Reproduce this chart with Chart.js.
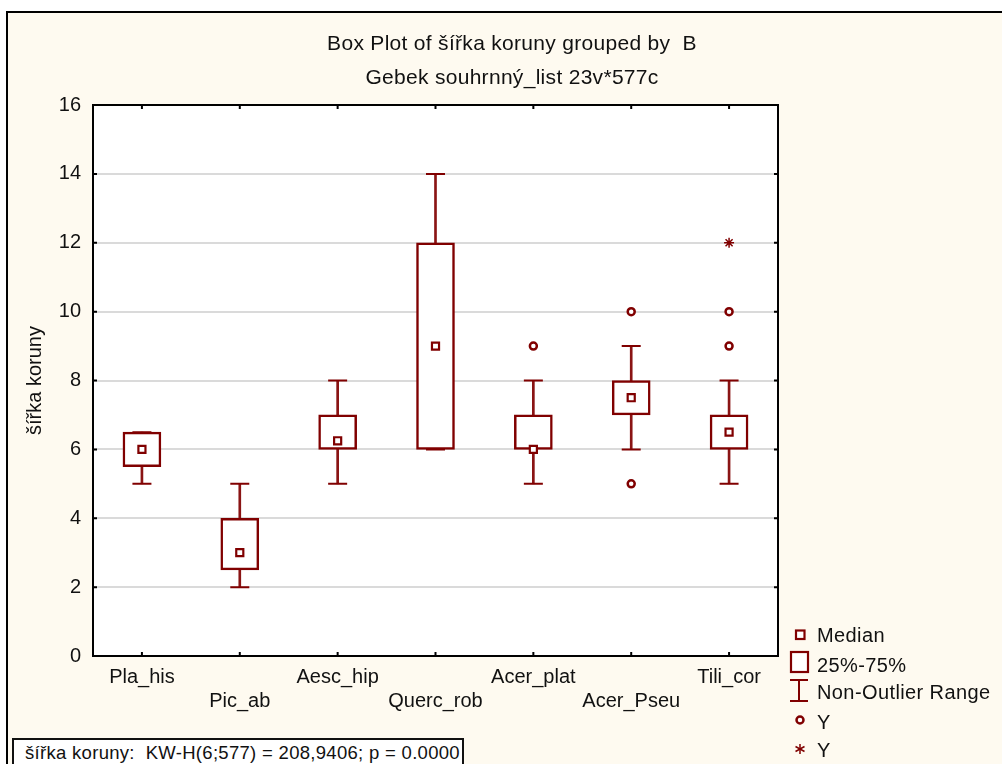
<!DOCTYPE html>
<html>
<head>
<meta charset="utf-8">
<script src="https://cdn.jsdelivr.net/npm/chart.js@4.4.1/dist/chart.umd.min.js"></script>
<style>
  html, body { margin: 0; padding: 0; background: #ffffff; }
  body { width: 1002px; height: 764px; position: relative; overflow: hidden;
         font-family: "Liberation Sans", Arial, sans-serif; color: #111; }
  #frame { position: absolute; left: 6px; top: 11px; width: 1100px; height: 900px;
           border: 2px solid #000; background: #fefaf0; }
  #chart { position: absolute; left: 0; top: 0; }
  .txt { position: absolute; font-size: 20px; line-height: 20px; white-space: pre; letter-spacing: 0.4px; }
  .ttl { font-size: 21px; letter-spacing: 0.3px; }
  .center { transform: translateX(-50%); }
  #kw { position: absolute; left: 12px; top: 738px; width: 448px; height: 40px;
        border: 2px solid #111; background: #fff; }
  #legend-marks { position: absolute; left: 780px; top: 620px; }
</style>
</head>
<body>
<div id="frame"></div>
<canvas id="chart" width="1002" height="764"></canvas>

<div class="txt ttl center" style="left:512px; top:33px;">Box Plot of šířka koruny grouped by  B</div>
<div class="txt ttl center" style="left:512px; top:67px;">Gebek souhrnný_list 23v*577c</div>

<svg id="legend-marks" width="40" height="144">
  <rect x="16" y="10.5" width="8.5" height="8.5" fill="#fff" stroke="#800000" stroke-width="2.2"/>
  <rect x="11" y="32" width="17" height="20" fill="#fff" stroke="#800000" stroke-width="2.2"/>
  <line x1="10" y1="60" x2="28" y2="60" stroke="#800000" stroke-width="2"/>
  <line x1="19" y1="60" x2="19" y2="81" stroke="#800000" stroke-width="2"/>
  <line x1="10" y1="81" x2="28" y2="81" stroke="#800000" stroke-width="2"/>
  <circle cx="20" cy="100" r="3.5" fill="#fff" stroke="#800000" stroke-width="2.5"/>
  <g stroke="#800000" stroke-width="1.5">
    <line x1="20" y1="124" x2="20" y2="134"/>
    <line x1="15.5" y1="126.5" x2="24.5" y2="131.5"/>
    <line x1="15.5" y1="131.5" x2="24.5" y2="126.5"/>
  </g>
</svg>
<div class="txt" style="left:817px; top:625px;">Median</div>
<div class="txt" style="left:817px; top:655px;">25%-75%</div>
<div class="txt" style="left:817px; top:682px;">Non-Outlier Range</div>
<div class="txt" style="left:817px; top:712px;">Y</div>
<div class="txt" style="left:817px; top:740px;">Y</div>

<div id="kw"></div>
<div class="txt" style="left:25px; top:743px; font-size:18.5px; letter-spacing:0.3px;">šířka koruny:  KW-H(6;577) = 208,9406; p = 0.0000</div>

<script>
const categories = ["Pla_his", "Pic_ab", "Aesc_hip", "Querc_rob", "Acer_plat", "Acer_Pseu", "Tili_cor"];
const medians = [6, 3, 6.25, 9, 6, 7.5, 6.5];
const q1 = [5.5, 2.5, 6, 6, 6, 7, 6];
const q3 = [6.5, 4, 7, 12, 7, 8, 7];
const whiskerMin = [5, 2, 5, 6, 5, 6, 5];
const whiskerMax = [6.5, 5, 8, 14, 8, 9, 8];
const outliers = [[], [], [], [], [9], [10, 5], [10, 9]];
const extremes = [[], [], [], [], [], [], [12]];
const yTicks = [0, 2, 4, 6, 8, 10, 12, 14, 16];

const RED = "#800000";
const FONT = { family: "'Liberation Sans', Arial, sans-serif", size: 20 };

// staggered category labels: odd ones on the second line
const xLabels = categories.map((c, i) => (i % 2 === 0 ? [c] : ["", c]));

const capPoints = [];
categories.forEach((c, i) => {
  capPoints.push({ x: xLabels[i], y: whiskerMin[i] });
  capPoints.push({ x: xLabels[i], y: whiskerMax[i] });
});
const medianPoints = categories.map((c, i) => ({ x: xLabels[i], y: medians[i] }));
const outlierPoints = [];
outliers.forEach((arr, i) => arr.forEach((v) => outlierPoints.push({ x: xLabels[i], y: v })));
const extremePoints = [];
extremes.forEach((arr, i) => arr.forEach((v) => extremePoints.push({ x: xLabels[i], y: v })));

const plotFrame = {
  id: "plotFrame",
  beforeDraw(chart) {
    const { ctx, chartArea: a } = chart;
    ctx.save();
    ctx.fillStyle = "#ffffff";
    ctx.fillRect(a.left, a.top, a.right - a.left, a.bottom - a.top);
    ctx.restore();
  },
  afterDraw(chart) {
    const { ctx, chartArea: a, scales } = chart;
    ctx.save();
    ctx.strokeStyle = "#000";
    ctx.lineWidth = 2;
    ctx.strokeRect(a.left, a.top, a.right - a.left, a.bottom - a.top);
    // inward tick marks
    ctx.beginPath();
    scales.y.ticks.forEach((t) => {
      const py = scales.y.getPixelForValue(t.value);
      ctx.moveTo(a.left, py); ctx.lineTo(a.left + 4, py);
      ctx.moveTo(a.right, py); ctx.lineTo(a.right - 4, py);
    });
    categories.forEach((c, i) => {
      const px = scales.x.getPixelForValue(i);
      ctx.moveTo(px, a.top); ctx.lineTo(px, a.top + 4);
      ctx.moveTo(px, a.bottom); ctx.lineTo(px, a.bottom - 4);
    });
    ctx.stroke();
    ctx.restore();
  }
};

new Chart(document.getElementById("chart"), {
  type: "bar",
  data: {
    labels: xLabels,
    datasets: [
      {
        label: "whisker",
        data: categories.map((c, i) => [whiskerMin[i], whiskerMax[i]]),
        backgroundColor: "#8a1414",
        barThickness: 2,
        grouped: false,
        order: 4
      },
      {
        type: "line",
        label: "caps",
        data: capPoints,
        showLine: false,
        pointStyle: "line",
        pointRadius: 9.5,
        pointBorderWidth: 2,
        borderColor: RED,
        order: 3
      },
      {
        label: "box",
        data: categories.map((c, i) => [q1[i], q3[i]]),
        backgroundColor: "#ffffff",
        borderColor: RED,
        borderWidth: 2.5,
        borderSkipped: false,
        barThickness: 38,
        grouped: false,
        order: 2
      },
      {
        type: "line",
        label: "Median",
        data: medianPoints,
        showLine: false,
        pointStyle: "rect",
        pointRadius: 5,
        pointBorderWidth: 2.2,
        pointBackgroundColor: "#ffffff",
        borderColor: RED,
        order: 1
      },
      {
        type: "line",
        label: "Y",
        data: outlierPoints,
        showLine: false,
        pointStyle: "circle",
        pointRadius: 3.5,
        pointBorderWidth: 2.5,
        pointBackgroundColor: "#ffffff",
        borderColor: RED,
        order: 0
      },
      {
        type: "line",
        label: "Y extreme",
        data: extremePoints,
        showLine: false,
        pointStyle: "star",
        pointRadius: 5,
        pointBorderWidth: 1.5,
        borderColor: RED,
        order: 0
      }
    ]
  },
  options: {
    responsive: false,
    animation: false,
    events: [],
    layout: { padding: { left: 0, top: 105, right: 224, bottom: 0 } },
    plugins: {
      legend: { display: false },
      tooltip: { enabled: false },
      title: { display: false }
    },
    scales: {
      x: {
        type: "category",
        offset: true,
        grid: { display: false, drawTicks: false },
        border: { display: false },
        ticks: { color: "#111", font: FONT, padding: 9, autoSkip: false, maxRotation: 0,
                 minRotation: 0 },
        afterFit: (s) => { s.height = 108; }
      },
      y: {
        min: 0,
        max: 16,
        afterBuildTicks: (s) => { s.ticks = yTicks.map((v) => ({ value: v })); },
        grid: { color: "#dadada", lineWidth: 2, drawTicks: false },
        border: { display: false },
        ticks: { color: "#111", font: FONT, padding: 12 },
        title: { display: true, text: "šířka koruny", color: "#111", font: FONT,
                 padding: { top: 23, bottom: 0 } },
        afterFit: (s) => { s.width = 93; }
      }
    }
  },
  plugins: [plotFrame]
});
</script>
</body>
</html>
